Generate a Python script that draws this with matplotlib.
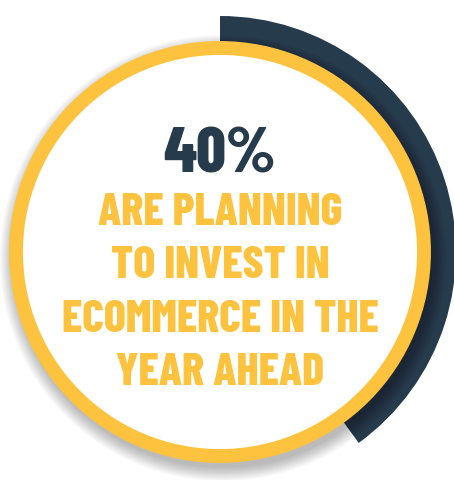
import numpy as np
import matplotlib.pyplot as plt
from matplotlib.patches import Circle, Wedge

# values
share = 40  # percent
headline = "40%"
caption_lines = ["ARE PLANNING", "TO INVEST IN", "ECOMMERCE IN THE", "YEAR AHEAD"]

navy = "#263b4c"
yellow = "#fdc23e"

fig = plt.figure(figsize=(4.54, 4.80), dpi=100)
ax = fig.add_axes([0, 0, 1, 1])
ax.set_xlim(0, 454)
ax.set_ylim(480, 0)
ax.set_aspect("equal")
ax.axis("off")

cx, cy = 220, 252
r_circle = 209
r_arc = 236

# navy progress arc, clockwise from 12 o'clock (y axis is flipped)
start = -90
end = start + 360 * share / 100
ax.add_patch(Wedge((cx, cy), r_arc, start, end, width=r_arc - r_circle + 2,
                   facecolor=navy, edgecolor="none", zorder=1))

# soft shadow under the circle
for i in range(12):
    ax.add_patch(Circle((cx + 3, cy + 6), r_circle + 1 + i * 1.2,
                        facecolor="black", edgecolor="none",
                        alpha=0.025, zorder=2))

# white disc with yellow ring
ax.add_patch(Circle((cx, cy), r_circle - 5, facecolor="white",
                    edgecolor=yellow, linewidth=10, zorder=3))

font = ["Barlow Condensed", "DejaVu Sans"]
ax.text(cx, 150, headline, ha="center", va="center_baseline", color=navy,
        fontsize=47, fontweight=800, family=font, zorder=4)

y0, step = 209, 53.3
for i, line in enumerate(caption_lines):
    ax.text(cx, y0 + i * step, line, ha="center", va="center_baseline", color=yellow,
            fontsize=33, fontweight=800, family=font, zorder=4)

fig.savefig("out.png", dpi=100)
